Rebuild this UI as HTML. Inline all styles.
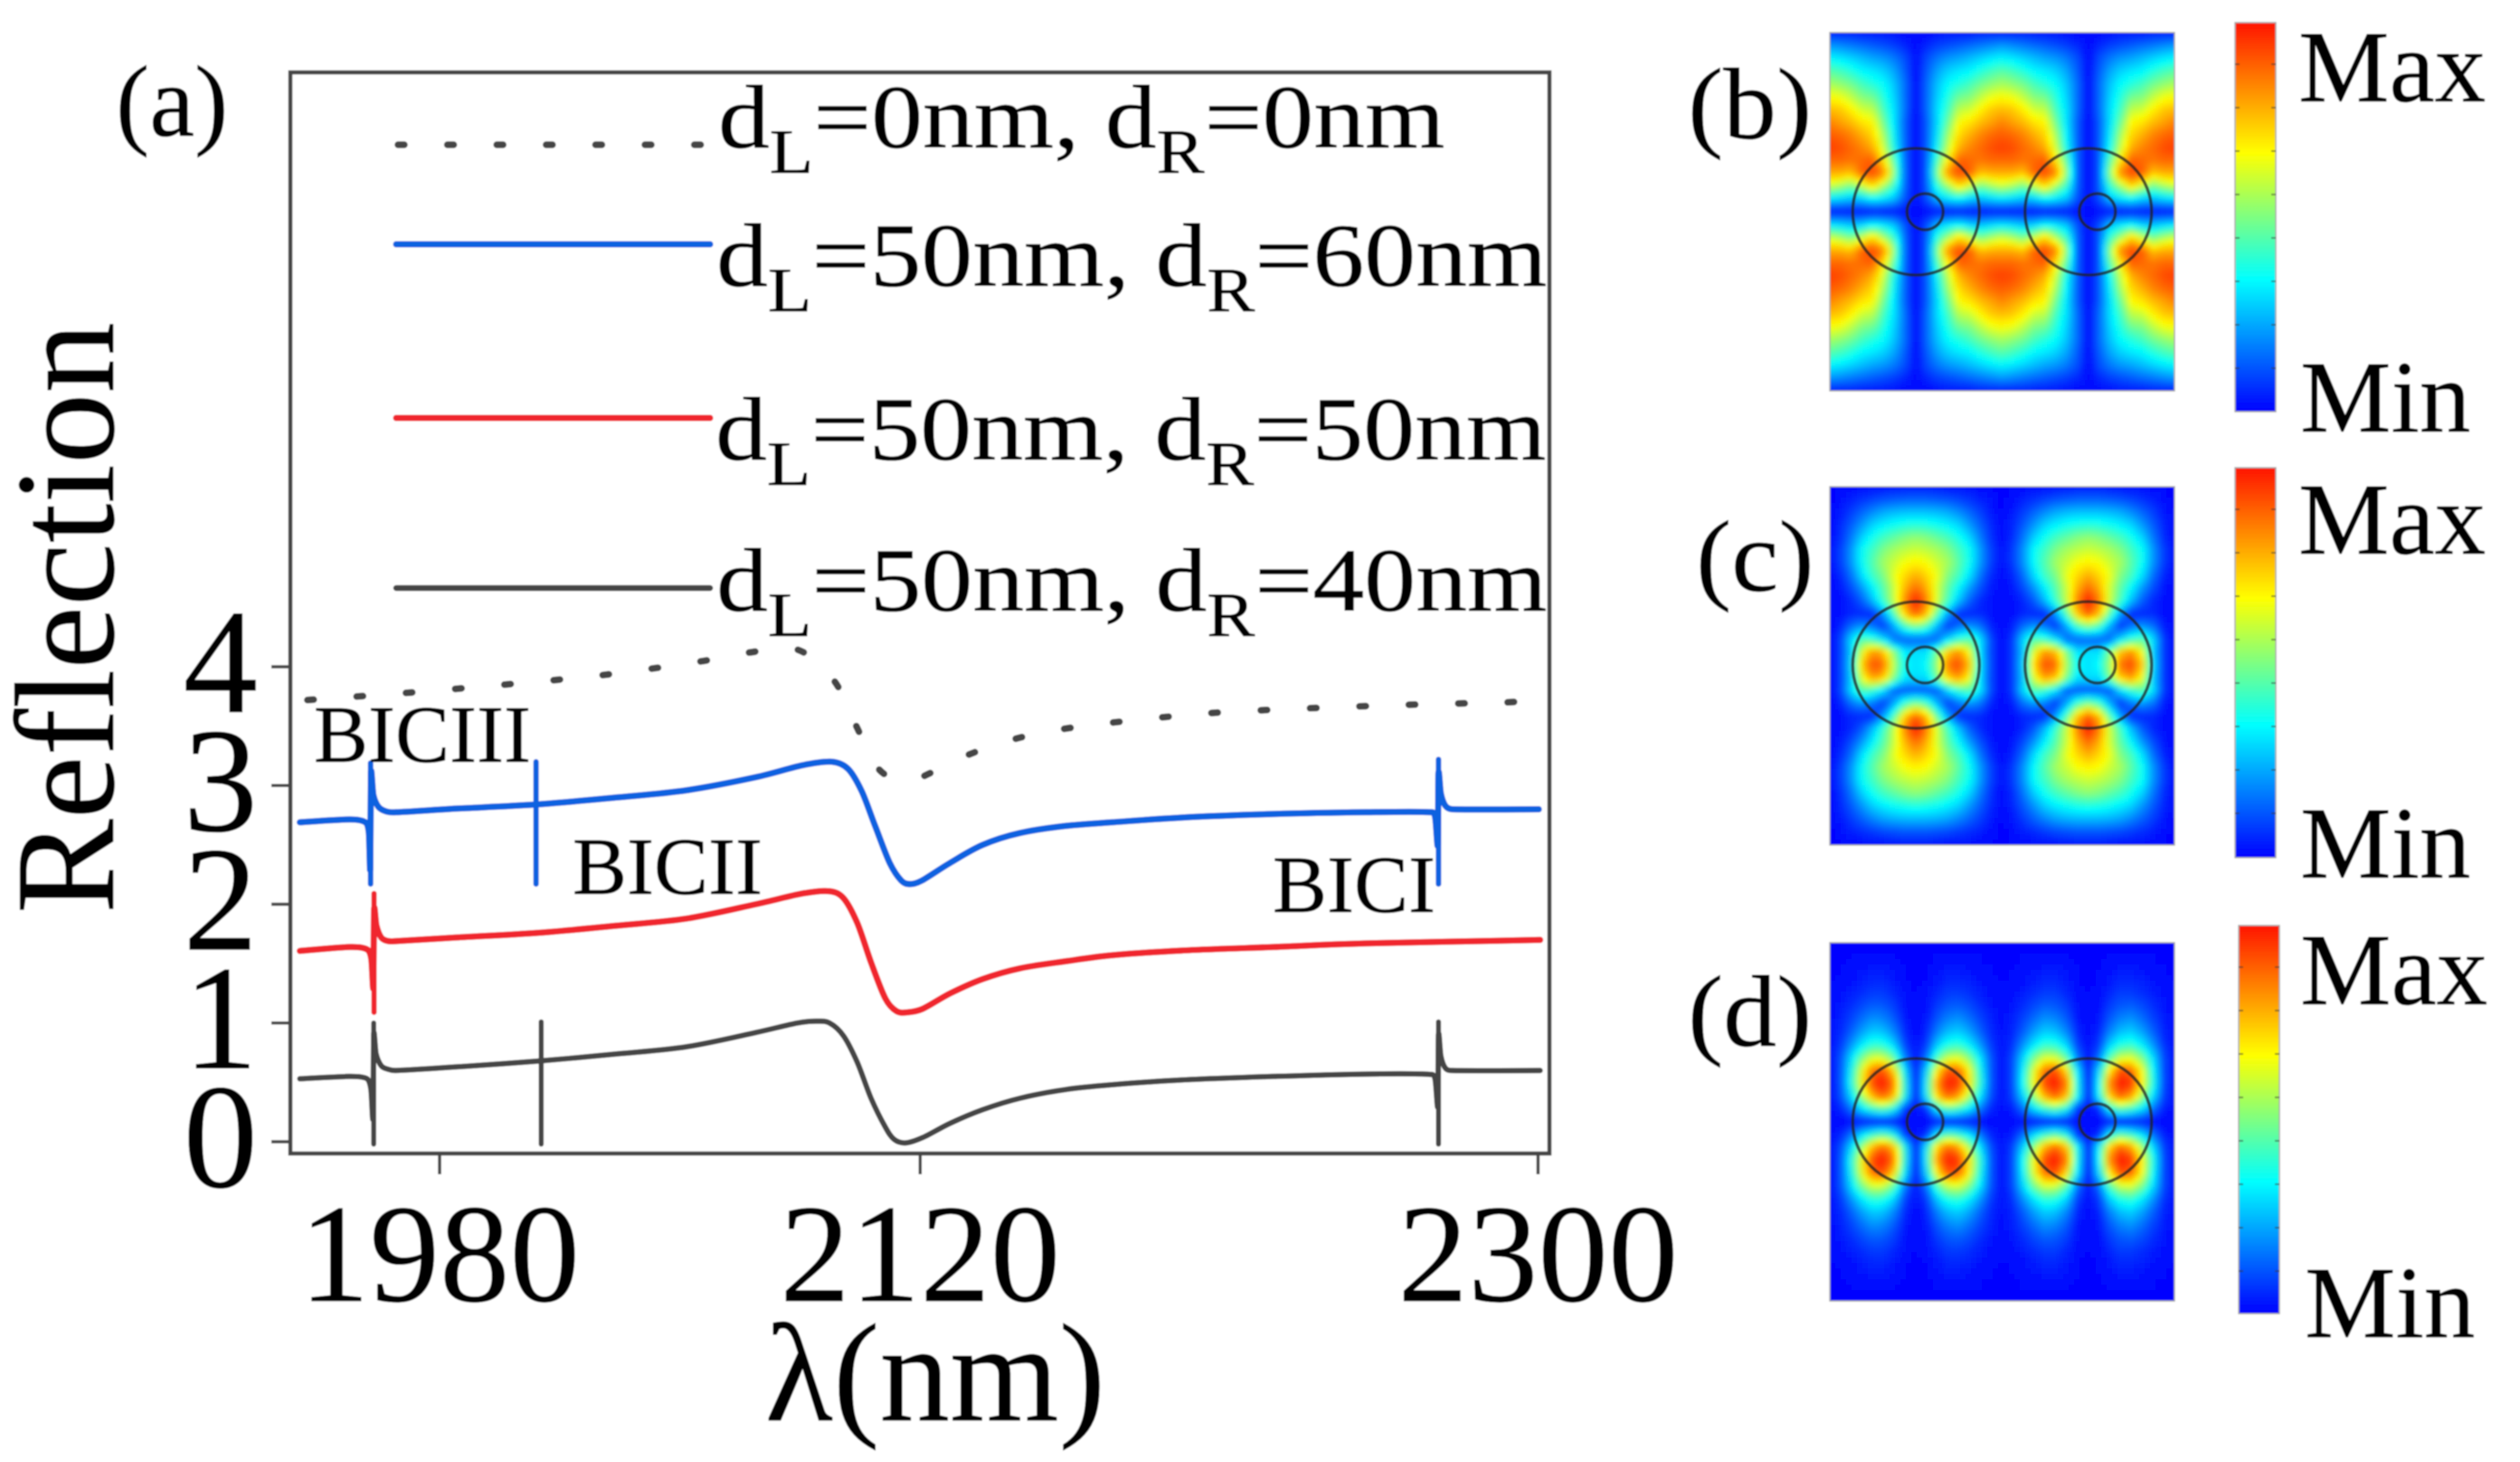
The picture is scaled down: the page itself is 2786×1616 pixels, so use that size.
<!DOCTYPE html>
<html lang="en">
<head>
<meta charset="utf-8">
<title>Reflection spectra and field maps</title>
<style>
html,body{margin:0;padding:0;background:#fff;width:2786px;height:1616px;overflow:hidden}
svg{display:block;position:absolute;left:0;top:0;font-family:"Liberation Serif",serif}
svg text{fill:#000;stroke:#000;stroke-width:.6}
</style>
</head>
<body>
<svg id="fig" xmlns="http://www.w3.org/2000/svg" width="2786" height="1616" viewBox="0 0 2786 1616">
<defs>
<linearGradient id="jet" x1="0" y1="1" x2="0" y2="0"></linearGradient>
<filter id="soft" x="-5%" y="-5%" width="110%" height="110%"><feGaussianBlur stdDeviation="3"/></filter>
<filter id="tiny" x="-2%" y="-2%" width="104%" height="104%"><feGaussianBlur stdDeviation="0.7"/></filter>
</defs>
<g id="root" filter="url(#tiny)">
<rect width="2786" height="1616" fill="#fff"/>
<g id="plot"></g>
<rect x="321" y="80" width="1392" height="1195" fill="none" stroke="#444" stroke-width="4.5"/>

<text x="128" y="150" font-size="112">(a)</text>
<text transform="translate(1866 153) scale(1.05 1)" font-size="112">(b)</text>
<text transform="translate(1875 653) scale(1.05 1)" font-size="112">(c)</text>
<text transform="translate(1866 1156) scale(1.05 1)" font-size="112">(d)</text>

<text transform="translate(125 683) rotate(-90)" text-anchor="middle" font-size="157">Reflection</text>
<text x="1034" y="1570" text-anchor="middle" font-size="155">λ(nm)</text>

<g>
<text transform="translate(794 163) scale(1.135 1)" font-size="100">d<tspan font-size="70" dy="28">L</tspan><tspan dy="-28">=0nm, d</tspan><tspan font-size="70" dy="28">R</tspan><tspan dy="-28">=0nm</tspan></text>
<text transform="translate(792 316) scale(1.137 1)" font-size="100">d<tspan font-size="70" dy="28">L</tspan><tspan dy="-28">=50nm, d</tspan><tspan font-size="70" dy="28">R</tspan><tspan dy="-28">=60nm</tspan></text>
<text transform="translate(791 508) scale(1.137 1)" font-size="100">d<tspan font-size="70" dy="28">L</tspan><tspan dy="-28">=50nm, d</tspan><tspan font-size="70" dy="28">R</tspan><tspan dy="-28">=50nm</tspan></text>
<text transform="translate(792 675) scale(1.137 1)" font-size="100">d<tspan font-size="70" dy="28">L</tspan><tspan dy="-28">=50nm, d</tspan><tspan font-size="70" dy="28">R</tspan><tspan dy="-28">=40nm</tspan></text>
<line x1="440" y1="160" x2="785" y2="160" stroke="#444" stroke-width="7.5" stroke-linecap="round" stroke-dasharray="7 47.6"/>
<line x1="438" y1="270" x2="785" y2="270" stroke="#0f62e0" stroke-width="7" stroke-linecap="round"/>
<line x1="438" y1="462" x2="785" y2="462" stroke="#f0282d" stroke-width="7" stroke-linecap="round"/>
<line x1="438" y1="650" x2="785" y2="650" stroke="#444" stroke-width="6.5" stroke-linecap="round"/>
</g>

<text x="347" y="842" font-size="90">BICIII</text>
<text x="633" y="988" font-size="90">BICII</text>
<text x="1407" y="1008" font-size="90">BICI</text>

<g id="maps"></g>

<text x="2541" y="112" font-size="113">Max</text>
<text x="2543" y="477" font-size="113">Min</text>
<text x="2541" y="612" font-size="113">Max</text>
<text x="2543" y="970" font-size="113">Min</text>
<text x="2543" y="1110" font-size="113">Max</text>
<text x="2548" y="1478" font-size="113">Min</text>
</g>
</svg>
<script>
// ---- Chart (a) data ----
const xTickValues = [1980, 2120, 2300];
const yTickValues = [0, 1, 2, 3, 4];

const blackLambda = [1939.3,1953.8,1958.9,1960,1960.6,1960.8,1961.5,1963,1965,1967.3,1984.8,2009,2031.8,2052,2072.1,2084.2,2089.6,2093.6,2097.7,2101.7,2105.7,2109.8,2112.4,2115.8,2120.8,2128.8,2138.2,2149,2162.4,2175.9,2196,2222.9,2249.8,2268.6,2270,2270.8,2271,2271.7,2273,2275,2300.6];
const blackR = [.53,.55,.53,.44,.2,.9,.74,.64,.61,.60,.63,.68,.74,.80,.92,1.0,1.015,1.0,.89,.667,.366,.126,.02,-.01,.036,.156,.27,.366,.44,.48,.52,.55,.57,.567,.53,.3,.9,.72,.62,.60,.60];
const blackSpikeLambda = [1960.8, 2009.6, 2271];
const blackSpikeTop = [1.0, 1.01, 1.01];
const blackSpikeBottom = [-0.02, -0.02, -0.02];

const blueLambda = [1939.3,1953.8,1958.4,1959.4,1959.8,1960,1960.7,1962.2,1964.6,1967.3,1984.8,2007.9,2031.8,2052,2072.1,2085.6,2094.3,2099,2103,2107,2111.1,2114.5,2117.1,2120.5,2128.8,2138.2,2149,2162.4,2175.9,2196,2222.9,2249.8,2268.6,2270,2270.8,2271,2271.7,2273,2275,2300.2];
const blueR = [2.69,2.715,2.69,2.6,2.3,3.1,2.92,2.82,2.78,2.775,2.805,2.84,2.90,2.96,3.07,3.17,3.2,3.14,2.95,2.65,2.35,2.2,2.17,2.2,2.35,2.5,2.6,2.66,2.69,2.73,2.76,2.775,2.775,2.74,2.5,3.1,2.93,2.83,2.80,2.80];
const blueSpikeLambda = [1959.9, 2008.1, 2271];
const blueSpikeTop = [3.19, 3.2, 3.22];
const blueSpikeBottom = [2.17, 2.17, 2.17];

const redLambda = [1939.3,1953.8,1958.9,1960.1,1960.7,1960.9,1961.6,1963,1965,1967.3,1984.8,2009,2031.8,2052,2072.1,2085.6,2093.6,2097.7,2101.7,2105.7,2109.8,2113.1,2116.5,2120.8,2128.8,2138.2,2149,2162.4,2175.9,2196,2222.9,2249.8,2300.6];
const redR = [1.607,1.64,1.62,1.54,1.3,1.95,1.82,1.72,1.69,1.69,1.72,1.76,1.82,1.88,2.0,2.09,2.11,2.05,1.84,1.51,1.21,1.1,1.09,1.12,1.25,1.37,1.46,1.52,1.57,1.61,1.64,1.67,1.70];
const redSpikeLambda = [1960.9];
const redSpikeTop = [2.09];
const redSpikeBottom = [1.09];

const refLambda = [1941.5,1970.2,1999.1,2027.5,2056,2070.1,2084.2,2095,2101.4,2107.3,2113.8,2120.2,2133.3,2147.3,2161.5,2175.9,2204.4,2233,2261.9,2290.4,2294];
const refR = [3.72,3.78,3.85,3.93,4.045,4.12,4.145,3.88,3.5,3.16,3.04,3.07,3.25,3.39,3.475,3.53,3.61,3.65,3.68,3.70,3.705];

// ---- Field map data: one quadrant per panel.
// rows: ring centre (first) to panel top (last); columns: ring centre to cell edge.
const fieldB = [
[.01,.02,.02,.02,.02,.02,.02,.02,.02],
[.01,.10,.25,.30,.33,.27,.25,.28,.30],
[.01,.12,.40,.55,.72,.60,.48,.55,.60],
[.01,.12,.52,.85,.93,.90,.75,.78,.78],
[.01,.12,.45,.70,.90,.88,.86,.88,.88],
[.01,.12,.35,.60,.78,.84,.88,.92,.94],
[.01,.12,.32,.55,.72,.78,.84,.88,.90],
[.01,.12,.30,.48,.67,.70,.76,.80,.84],
[.01,.14,.30,.42,.58,.60,.68,.74,.76],
[.01,.14,.28,.38,.48,.50,.58,.64,.66],
[.01,.14,.26,.34,.38,.42,.48,.52,.55],
[.01,.12,.22,.28,.31,.33,.38,.42,.45],
[.01,.10,.16,.20,.22,.25,.28,.31,.33],
[.01,.05,.08,.10,.12,.14,.16,.18,.20],
[.01,.01,.02,.03,.03,.03,.04,.04,.04]
];
const fieldC = [
[.30,.35,.55,.88,.93,.75,.30,.08,.01],
[.30,.30,.50,.75,.82,.65,.28,.08,.01],
[.12,.12,.12,.30,.40,.45,.30,.08,.01],
[.50,.42,.22,.06,.15,.20,.15,.04,.01],
[.90,.75,.45,.20,.05,.05,.05,.02,.01],
[1.0,.85,.60,.42,.25,.12,.05,.02,.01],
[.88,.78,.60,.45,.33,.20,.10,.03,.01],
[.78,.72,.64,.50,.42,.30,.15,.05,.01],
[.68,.66,.60,.55,.45,.35,.20,.08,.02],
[.60,.58,.55,.50,.42,.35,.20,.08,.02],
[.52,.50,.46,.42,.36,.28,.16,.06,.01],
[.38,.37,.35,.32,.28,.20,.12,.05,.01],
[.25,.25,.24,.22,.18,.13,.08,.03,.01],
[.12,.12,.11,.10,.08,.06,.04,.02,.00],
[.03,.03,.03,.02,.02,.02,.01,.01,.00]
];
const fieldD = [
[.02,.01,.02,.02,.02,.02,.01,.01,.01],
[.02,.05,.35,.45,.40,.30,.15,.04,.02],
[.02,.35,.75,.90,.80,.55,.30,.09,.02],
[.02,.35,.85,1.0,.95,.68,.38,.10,.02],
[.02,.30,.70,.92,.88,.65,.35,.10,.02],
[.02,.15,.45,.60,.62,.50,.30,.10,.02],
[.02,.08,.28,.38,.40,.32,.20,.07,.02],
[.01,.05,.18,.26,.28,.22,.13,.05,.02],
[.01,.03,.12,.18,.20,.15,.09,.04,.02],
[.01,.02,.08,.12,.13,.10,.06,.03,.01],
[.01,.02,.05,.08,.08,.06,.04,.02,.01],
[.00,.01,.03,.05,.05,.04,.02,.01,.01],
[.00,.01,.02,.03,.03,.02,.01,.01,.00],
[.00,.00,.01,.01,.01,.01,.01,.00,.00],
[.00,.00,.00,.00,.00,.00,.00,.00,.00]
];
const jetPositions = [0, 0.34, 0.665, 1];
const jetColors = [[0,0,255],[0,255,255],[255,255,0],[255,20,0]];

// ---- Scales ----
const NS = 'http://www.w3.org/2000/svg';
function xScale(v){ return 486 + (v - 1980) * 3.795; }
function yScale(v){ return 1262 - v * 131.25; }
function mk(tag, parent, attrs){
  const el = document.createElementNS(NS, tag);
  for (const k in attrs) el.setAttribute(k, attrs[k]);
  parent.appendChild(el);
  return el;
}
function smoothPath(xs, ys){
  const p = xs.map((x,i)=>[xScale(x), yScale(ys[i])]);
  let d = 'M' + p[0][0].toFixed(1) + ' ' + p[0][1].toFixed(1);
  for (let i = 0; i < p.length - 1; i++){
    const a = p[Math.max(i-1,0)], b = p[i], c = p[i+1], e = p[Math.min(i+2,p.length-1)];
    const seg = Math.abs(c[0]-b[0]);
    const t1 = Math.min(0.16, 0.4*seg/Math.max(Math.abs(c[0]-a[0]),1));
    const t2 = Math.min(0.16, 0.4*seg/Math.max(Math.abs(e[0]-b[0]),1));
    d += ' C' + (b[0]+(c[0]-a[0])*t1).toFixed(1) + ' ' + (b[1]+(c[1]-a[1])*t1).toFixed(1) + ' ' +
         (c[0]-(e[0]-b[0])*t2).toFixed(1) + ' ' + (c[1]-(e[1]-b[1])*t2).toFixed(1) + ' ' +
         c[0].toFixed(1) + ' ' + c[1].toFixed(1);
  }
  return d;
}

// ---- Plot ----
const plot = document.getElementById('plot');
xTickValues.forEach(v => {
  const t = mk('line', plot, {x1:xScale(v), x2:xScale(v), y1:1275, y2:1298, stroke:'#444', 'stroke-width':3.5});
  
  
  const l = mk('text', plot, {x:xScale(v), y:1438, 'text-anchor':'middle', 'font-size':155});
  
  
  l.textContent = v;
});
yTickValues.forEach(v => {
  const t = mk('line', plot, {x1:300, x2:321, y1:yScale(v), y2:yScale(v), stroke:'#444', 'stroke-width':3.5});
  
  
  const l = mk('text', plot, {x:285, y:yScale(v)+50, 'text-anchor':'end', 'font-size':165});
  
  
  l.textContent = v;
});

const refLine = mk('path', plot, {d:smoothPath(refLambda, refR), fill:'none', stroke:'#444', 'stroke-width':7.5, 'stroke-linecap':'round', 'stroke-dasharray':'7 47.6'});



const blueLine = mk('path', plot, {d:smoothPath(blueLambda, blueR), fill:'none', stroke:'#0f62e0', 'stroke-width':7, 'stroke-linejoin':'round', 'stroke-linecap':'round'});



const redLine = mk('path', plot, {d:smoothPath(redLambda, redR), fill:'none', stroke:'#f0282d', 'stroke-width':7, 'stroke-linejoin':'round', 'stroke-linecap':'round'});



const blackLine = mk('path', plot, {d:smoothPath(blackLambda, blackR), fill:'none', stroke:'#444', 'stroke-width':6, 'stroke-linejoin':'round', 'stroke-linecap':'round'});



blueSpikeLambda.forEach((v,i) => {
  const s = mk('line', plot, {x1:xScale(v), x2:xScale(v), y1:yScale(blueSpikeTop[i]), y2:yScale(blueSpikeBottom[i]), stroke:'#0f62e0', 'stroke-width':6, 'stroke-linecap':'round'});
  
  
});
redSpikeLambda.forEach((v,i) => {
  const s = mk('line', plot, {x1:xScale(v), x2:xScale(v), y1:yScale(redSpikeTop[i]), y2:yScale(redSpikeBottom[i]), stroke:'#f0282d', 'stroke-width':6, 'stroke-linecap':'round'});
  
  
});
blackSpikeLambda.forEach((v,i) => {
  const s = mk('line', plot, {x1:xScale(v), x2:xScale(v), y1:yScale(blackSpikeTop[i]), y2:yScale(blackSpikeBottom[i]), stroke:'#444', 'stroke-width':5.5, 'stroke-linecap':'round'});
  
  
});

// ---- Jet colour scale ----
function jet(v){
  v = Math.max(0, Math.min(1, v));
  let i = 0;
  while (i < jetPositions.length - 2 && v > jetPositions[i+1]) i++;
  const f = (v - jetPositions[i]) / (jetPositions[i+1] - jetPositions[i]);
  const a = jetColors[i], b = jetColors[i+1];
  return 'rgb(' + Math.round(a[0]+(b[0]-a[0])*f) + ',' + Math.round(a[1]+(b[1]-a[1])*f) + ',' + Math.round(a[2]+(b[2]-a[2])*f) + ')';
}
const jetGrad = document.getElementById('jet');
jetPositions.forEach((p,i) => {
  mk('stop', jetGrad, {offset:p, 'stop-color':jet(p)});
});

// ---- Field maps ----
const maps = document.getElementById('maps');
const panelNames = ['b','c','d'];
const panelFields = [fieldB, fieldC, fieldD];
const panelTops = [36, 538, 1042];
const panelCenters = [234, 735, 1240];
const barLefts = [2471, 2471, 2475];
const barTops = [25, 517, 1023];
const barBottoms = [455, 948, 1452];
const mapLeft = 2023, mapW = 381, mapH = 396, cell = 6;

function sample(field, dx, dy){
  const period = mapW / 2;
  const m = ((dx - mapW/4) % period + period) % period;
  const u = Math.min(m, period - m) / (period/2) * (field[0].length - 1);
  const v = Math.min(Math.abs(dy) / (mapH/2), 1) * (field.length - 1);
  const i = Math.min(Math.floor(v), field.length - 2), j = Math.min(Math.floor(u), field[0].length - 2);
  const fu = u - j, fv = v - i;
  return (field[i][j]*(1-fu)+field[i][j+1]*fu)*(1-fv) + (field[i+1][j]*(1-fu)+field[i+1][j+1]*fu)*fv;
}

panelNames.forEach((name, k) => {
  const top = panelTops[k], cy = panelCenters[k], field = panelFields[k];
  const clipId = 'clip' + name;
  const clip = mk('clipPath', document.querySelector('defs'), {id:clipId});
  mk('rect', clip, {x:mapLeft, y:top, width:mapW, height:mapH});
  const outer = mk('g', maps, {'clip-path':'url(#' + clipId + ')'});
  
  
  const inner = mk('g', outer, {filter:'url(#soft)', 'shape-rendering':'crispEdges'});
  for (let py = -12; py < mapH + 12; py += cell){
    for (let px = -12; px < mapW + 12; px += cell){
      const val = sample(field, px + cell/2, top + py + cell/2 - cy);
      const r = mk('rect', inner, {x:mapLeft+px, y:top+py, width:cell+0.5, height:cell+0.5, fill:jet(val)});
      
      
    }
  }
  const edge = mk('rect', maps, {x:mapLeft, y:top, width:mapW, height:mapH, fill:'none', stroke:'#aaa', 'stroke-width':1.5});
  
  
  // resonator outlines
  [0.25, 0.75].forEach(fr => {
    const cx = mapLeft + mapW*fr;
    const ring = mk('circle', maps, {cx:cx, cy:cy, r:70, fill:'none', stroke:'#222', 'stroke-opacity':0.75, 'stroke-width':3.5});
    
    
    const hole = mk('circle', maps, {cx:cx+10, cy:cy, r:20, fill:'none', stroke:'#222', 'stroke-opacity':0.75, 'stroke-width':3.5});
    
    
  });
  // colour bar
  const bx = barLefts[k], bt = barTops[k], bb = barBottoms[k];
  const bar = mk('rect', maps, {x:bx, y:bt, width:45, height:bb-bt, fill:'url(#jet)', stroke:'#aaa', 'stroke-width':1.5});
  
  
  for (let t = 1; t <= 8; t++){
    const yy = bt + 46 + (t-1)*48;
    const a = mk('line', maps, {x1:bx, x2:bx+5, y1:yy, y2:yy, stroke:'#333', 'stroke-opacity':0.5, 'stroke-width':2});
    
    
    const b = mk('line', maps, {x1:bx+40, x2:bx+45, y1:yy, y2:yy, stroke:'#333', 'stroke-opacity':0.5, 'stroke-width':2});
    
    
  }
});
</script>
</body>
</html>
